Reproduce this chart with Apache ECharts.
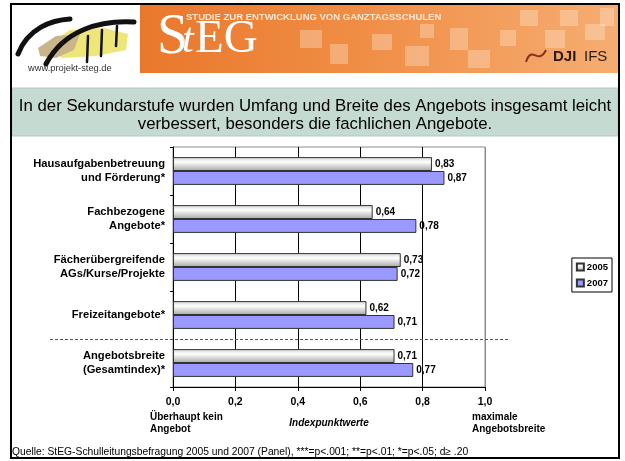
<!DOCTYPE html>
<html>
<head>
<meta charset="utf-8">
<script src="https://cdn.jsdelivr.net/npm/echarts@6/dist/echarts.min.js"></script>
<style>
html, body { margin: 0; padding: 0; background: #fff; }
#chart { width: 625px; height: 461px; }
</style>
</head>
<body>
<div id="chart"></div>
<script>
// Daten
const categories = [
    'Hausaufgabenbetreuung\nund Förderung*',
    'Fachbezogene\nAngebote*',
    'Fächerübergreifende\nAGs/Kurse/Projekte',
    'Freizeitangebote*',
    'Angebotsbreite\n(Gesamtindex)*'
];
const years = ['2005', '2007'];
const values2005 = [0.83, 0.64, 0.73, 0.62, 0.71];
const values2007 = [0.87, 0.78, 0.72, 0.71, 0.77];
const axisMin = 0;
const axisMax = 1;
const axisStep = 0.2;

const titleText = 'In der Sekundarstufe wurden Umfang und Breite des Angebots insgesamt leicht\nverbessert, besonders die fachlichen Angebote.';
const sourceText = 'Quelle: StEG-Schulleitungsbefragung 2005 und 2007 (Panel), ***=p<.001; **=p<.01; *=p<.05; d\u2265 .20';

function comma(v) {
    return v.toFixed(2).replace('.', ',');
}

const fontFam = 'Arial, "Liberation Sans", sans-serif';
const grey2005 = new echarts.graphic.LinearGradient(0, 0, 0, 1, [
    { offset: 0, color: '#cfcfcf' },
    { offset: 0.35, color: '#ffffff' },
    { offset: 1, color: '#a6a6a6' }
]);

// Kopfzeile (Logo + Banner) als Grafik
function headerGraphics() {
    const g = [];
    // Banner
    g.push({ type: 'rect', z: 1, shape: { x: 140, y: 5, width: 478, height: 68 },
        style: { fill: new echarts.graphic.LinearGradient(0, 0, 1, 0, [
            { offset: 0, color: '#e9782c' },
            { offset: 0.45, color: '#f08d45' },
            { offset: 1, color: '#f6ad72' }
        ]) } });
    const squares = [[300, 30, 22, 18], [330, 44, 18, 20], [372, 34, 20, 16], [405, 46, 24, 20],
        [450, 28, 18, 22], [468, 50, 22, 18], [500, 30, 16, 16], [520, 10, 18, 16],
        [545, 30, 20, 18], [560, 10, 18, 16], [585, 24, 20, 16], [600, 8, 14, 18], [420, 24, 14, 14]];
    squares.forEach(function (s) {
        g.push({ type: 'rect', z: 2, shape: { x: s[0], y: s[1], width: s[2], height: s[3] },
            style: { fill: 'rgba(255,235,215,0.35)' } });
    });
    g.push({ type: 'text', z: 3, style: { text: 'S', x: 157, y: 66, font: 'normal 56px "Liberation Serif", serif',
        fill: '#fff', textVerticalAlign: 'bottom' } });
    g.push({ type: 'text', z: 3, style: { text: 't', x: 182, y: 62, font: 'italic 42px "Liberation Serif", serif',
        fill: '#fff', textVerticalAlign: 'bottom' } });
    g.push({ type: 'text', z: 3, style: { text: 'EG', x: 195, y: 63, font: 'normal 47px "Liberation Serif", serif',
        fill: '#fff', textVerticalAlign: 'bottom' } });
    g.push({ type: 'text', z: 3, style: { text: 'STUDIE ZUR ENTWICKLUNG VON GANZTAGSSCHULEN', x: 186, y: 17,
        font: 'bold 9.5px ' + fontFam, fill: '#fde7d2', textVerticalAlign: 'middle' } });
    g.push({ type: 'bezierCurve', z: 3, shape: { x1: 526, y1: 62, x2: 546, y2: 50, cpx1: 532, cpy1: 44, cpx2: 538, cpy2: 66 },
        style: { stroke: '#8a2f1e', lineWidth: 2, fill: null } });
    g.push({ type: 'text', z: 3, style: { text: 'DJI', x: 553, y: 57, font: 'bold 15px ' + fontFam,
        fill: '#2a1a14', textVerticalAlign: 'middle' } });
    g.push({ type: 'text', z: 3, style: { text: 'IFS', x: 584, y: 57, font: 'normal 15px ' + fontFam,
        fill: '#2a1a14', textVerticalAlign: 'middle' } });
    // Logo links
    g.push({ type: 'polygon', z: 2, shape: { points: [[48, 44], [70, 30], [104, 28], [128, 34], [126, 50], [96, 56], [62, 58]] },
        style: { fill: '#efe67a' } });
    g.push({ type: 'polygon', z: 2, shape: { points: [[38, 48], [56, 36], [80, 34], [74, 50], [56, 58], [40, 56]] },
        style: { fill: '#c9b589' } });
    g.push({ type: 'bezierCurve', z: 3, shape: { x1: 18, y1: 54, x2: 70, y2: 19, cpx1: 28, cpy1: 28, cpx2: 52, cpy2: 20 },
        style: { stroke: '#111', lineWidth: 5, fill: null, lineCap: 'round' } });
    g.push({ type: 'bezierCurve', z: 3, shape: { x1: 46, y1: 64, x2: 134, y2: 22, cpx1: 64, cpy1: 30, cpx2: 100, cpy2: 20 },
        style: { stroke: '#111', lineWidth: 5, fill: null, lineCap: 'round' } });
    [[88, 36, 62], [102, 30, 56], [117, 26, 46]].forEach(function (p) {
        g.push({ type: 'line', z: 3, shape: { x1: p[0], y1: p[1], x2: p[0] - 1, y2: p[2] },
            style: { stroke: '#111', lineWidth: 2.5, lineCap: 'round' } });
    });
    g.push({ type: 'text', z: 3, style: { text: 'www.projekt-steg.de', x: 28, y: 68, font: 'normal 9.3px ' + fontFam,
        fill: '#333', textVerticalAlign: 'middle' } });
    return g;
}

function pageGraphics(sepY) {
    let g = headerGraphics();
    g.push({ type: 'rect', z: 1, shape: { x: 12, y: 88, width: 606, height: 48 },
        style: { fill: '#c5dad1', stroke: '#b7c9c1', lineWidth: 1 } });
    g.push({ type: 'text', z: 3, style: { text: titleText, x: 315, y: 115, font: 'normal 16.8px ' + fontFam,
        lineHeight: 18, fill: '#000', textAlign: 'center', textVerticalAlign: 'middle' } });
    g.push({ type: 'text', z: 3, style: { text: 'Überhaupt kein\nAngebot', x: 150, y: 411, font: 'bold 10px ' + fontFam,
        lineHeight: 12, fill: '#000' } });
    g.push({ type: 'text', z: 3, style: { text: 'maximale\nAngebotsbreite', x: 472, y: 411, font: 'bold 10px ' + fontFam,
        lineHeight: 12, fill: '#000' } });
    g.push({ type: 'text', z: 3, style: { text: sourceText, x: 12, y: 452, font: 'normal 10.3px ' + fontFam,
        fill: '#000', textVerticalAlign: 'middle' } });
    g.push({ type: 'rect', z: 10, shape: { x: 11, y: 4, width: 608, height: 454 },
        style: { fill: null, stroke: '#000', lineWidth: 2 } });
    if (sepY != null) {
        g.push({ type: 'line', z: 10, shape: { x1: 50, y1: sepY, x2: 508, y2: sepY },
            style: { stroke: '#555', lineWidth: 1, lineDash: [3, 2] } });
    }
    return g;
}

const labelStyle = {
    show: true,
    position: 'right',
    distance: 3,
    color: '#000',
    fontFamily: fontFam,
    fontWeight: 'bold',
    fontSize: 10,
    formatter: function (p) { return comma(p.value); }
};

const option = {
    animation: false,
    backgroundColor: '#fff',
    textStyle: { fontFamily: fontFam },
    graphic: pageGraphics(null),
    grid: {
        left: 173, top: 147, right: 140, bottom: 74,
        show: true, backgroundColor: '#fff', borderColor: '#8c8c8c', borderWidth: 1
    },
    legend: {
        data: years,
        orient: 'vertical',
        right: 13,
        top: 258,
        backgroundColor: '#fff',
        borderColor: '#000',
        borderWidth: 1,
        padding: [4, 4, 4, 4],
        itemGap: 6,
        itemWidth: 7,
        itemHeight: 7,
        icon: 'rect',
        textStyle: { fontFamily: fontFam, fontWeight: 'bold', fontSize: 9.5, color: '#000', padding: [0, 0, 0, -2] }
    },
    xAxis: {
        type: 'value',
        min: axisMin,
        max: axisMax,
        interval: axisStep,
        name: 'Indexpunktwerte',
        nameLocation: 'middle',
        nameGap: 31,
        nameTextStyle: { fontFamily: fontFam, fontStyle: 'italic', fontWeight: 'bold', fontSize: 10, color: '#000' },
        axisLine: { show: true, lineStyle: { color: '#000', width: 1 } },
        axisTick: { show: true, length: 4, lineStyle: { color: '#000' } },
        axisLabel: {
            margin: 10, color: '#000', fontFamily: fontFam, fontWeight: 'bold', fontSize: 10.5,
            formatter: function (v) { return v.toFixed(1).replace('.', ','); }
        },
        splitLine: { show: true, lineStyle: { color: ['#000', '#000', '#000', '#000', '#000', '#8c8c8c'], width: 1 } }
    },
    yAxis: {
        type: 'category',
        inverse: true,
        data: categories,
        axisLine: { show: true, lineStyle: { color: '#000', width: 1 } },
        axisTick: { show: true, length: 3, lineStyle: { color: '#000' } },
        axisLabel: {
            margin: 8, color: '#000', fontFamily: fontFam, fontWeight: 'bold', fontSize: 11.2,
            lineHeight: 14, align: 'right'
        }
    },
    series: [
        {
            name: years[0],
            type: 'bar',
            data: values2005,
            barGap: '0%',
            barCategoryGap: '42%',
            itemStyle: { color: grey2005, borderColor: '#333', borderWidth: 1 },
            label: labelStyle
        },
        {
            name: years[1],
            type: 'bar',
            data: values2007,
            itemStyle: { color: '#9999ff', borderColor: '#333', borderWidth: 1 },
            label: labelStyle
        }
    ]
};

const chart = echarts.init(document.getElementById('chart'));
chart.setOption(option);

// gestrichelte Trennlinie zwischen Freizeitangebote und Gesamtindex
const yA = chart.convertToPixel({ yAxisIndex: 0 }, categories[3]);
const yB = chart.convertToPixel({ yAxisIndex: 0 }, categories[4]);
chart.setOption({ graphic: pageGraphics(Math.round((yA + yB) / 2) + 0.5) }, { replaceMerge: ['graphic'] });
</script>
</body>
</html>
